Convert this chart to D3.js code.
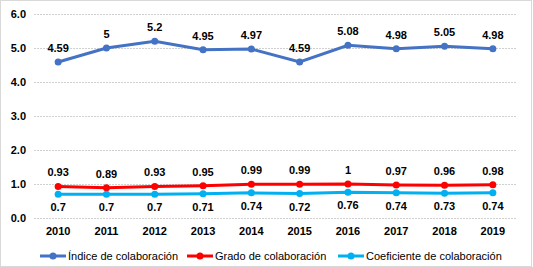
<!DOCTYPE html>
<html lang="es">
<head>
<meta charset="UTF-8" />
<title>Colaboración</title>
<style>
  body { margin: 0; background: #fff; }
  .chart { width: 533px; height: 267px; }
  text { font-family: "Liberation Sans", Arial, sans-serif; }
</style>
</head>
<body>
<div class="chart"></div>
<script src="https://d3js.org/d3.v7.min.js"></script>
<script>
  // datos
  const years = ['2010','2011','2012','2013','2014','2015','2016','2017','2018','2019']
  const indice = [4.59, 5, 5.2, 4.95, 4.97, 4.59, 5.08, 4.98, 5.05, 4.98]
  const grado = [0.93, 0.89, 0.93, 0.95, 0.99, 0.99, 1, 0.97, 0.96, 0.98]
  const coeficiente = [0.7, 0.7, 0.7, 0.71, 0.74, 0.72, 0.76, 0.74, 0.73, 0.74]
  const yTicks = [0, 1, 2, 3, 4, 5, 6]

  const series = [
    { name: 'Índice de colaboración', values: indice, color: '#4472C4', labelDy: -10 },
    { name: 'Grado de colaboración', values: grado, color: '#FF0000', labelDy: -10 },
    { name: 'Coeficiente de colaboración', values: coeficiente, color: '#00B0F0', labelDy: 17 }
  ]

  const width = 533, height = 267
  const svg = d3.select('.chart').append('svg')
                .attr('width', width)
                .attr('height', height)

  // marco
  svg.append('rect')
     .attr('x', 0.5).attr('y', 0.5)
     .attr('width', width - 2).attr('height', height - 1)
     .attr('fill', '#fff')
     .attr('stroke', '#D9D9D9')

  const xScale = d3.scaleBand()
                   .domain(years)
                   .range([34, 517])

  const yScale = d3.scaleLinear()
                   .domain([0, 6])
                   .range([218, 14])

  // grilla
  svg.append('g')
     .selectAll('line')
     .data(yTicks)
     .join('line')
     .attr('x1', 34).attr('x2', 517)
     .attr('y1', d => Math.round(yScale(d)) + 0.5)
     .attr('y2', d => Math.round(yScale(d)) + 0.5)
     .attr('stroke', '#D0D0D0')
     .attr('stroke-dasharray', '2,1')

  // eje Y
  const yAxis = d3.axisLeft(yScale)
                  .tickValues(yTicks)
                  .tickSize(0)
                  .tickPadding(4)
                  .tickFormat(d3.format('.1f'))
  svg.append('g')
     .attr('transform', 'translate(30,0)')
     .call(yAxis)
     .call(g => g.select('.domain').remove())
     .selectAll('text')
     .attr('font-size', 11)
     .attr('font-weight', 'bold')
     .attr('fill', '#000')
     .style('font-family', '"Liberation Sans", Arial, sans-serif')

  // eje X
  const xAxis = d3.axisBottom(xScale).tickSize(0).tickPadding(9)
  svg.append('g')
     .attr('transform', 'translate(0,218)')
     .call(xAxis)
     .call(g => g.select('.domain').remove())
     .selectAll('text')
     .attr('font-size', 11)
     .attr('font-weight', 'bold')
     .attr('fill', '#000')
     .style('font-family', '"Liberation Sans", Arial, sans-serif')

  const cx = (d, i) => xScale(years[i]) + xScale.bandwidth() / 2
  const line = d3.line()
                 .x((d, i) => cx(d, i))
                 .y(d => yScale(d))

  series.forEach(s => {
    const g = svg.append('g')
    g.append('path')
     .datum(s.values)
     .attr('d', line)
     .attr('fill', 'none')
     .attr('stroke', s.color)
     .attr('stroke-width', 3)
    g.selectAll('circle')
     .data(s.values)
     .join('circle')
     .attr('cx', cx)
     .attr('cy', d => yScale(d))
     .attr('r', 3.5)
     .attr('fill', s.color)
    g.selectAll('text')
     .data(s.values)
     .join('text')
     .attr('x', cx)
     .attr('y', d => yScale(d) + s.labelDy)
     .attr('text-anchor', 'middle')
     .attr('font-size', 11)
     .attr('font-weight', 'bold')
     .attr('fill', '#000')
     .text(d => d)
  })

  // leyenda
  const legendX = [40, 187, 338]
  const legend = svg.append('g')
                    .selectAll('g')
                    .data(series)
                    .join('g')
                    .attr('transform', (d, i) => `translate(${legendX[i]},256)`)
  legend.append('line')
        .attr('x1', 0).attr('x2', 26)
        .attr('stroke', d => d.color)
        .attr('stroke-width', 3)
  legend.append('circle')
        .attr('cx', 13).attr('r', 3.5)
        .attr('fill', d => d.color)
  legend.append('text')
        .attr('x', 28).attr('y', 4)
        .attr('font-size', 11)
        .attr('fill', '#000')
        .text(d => d.name)
</script>
</body>
</html>
